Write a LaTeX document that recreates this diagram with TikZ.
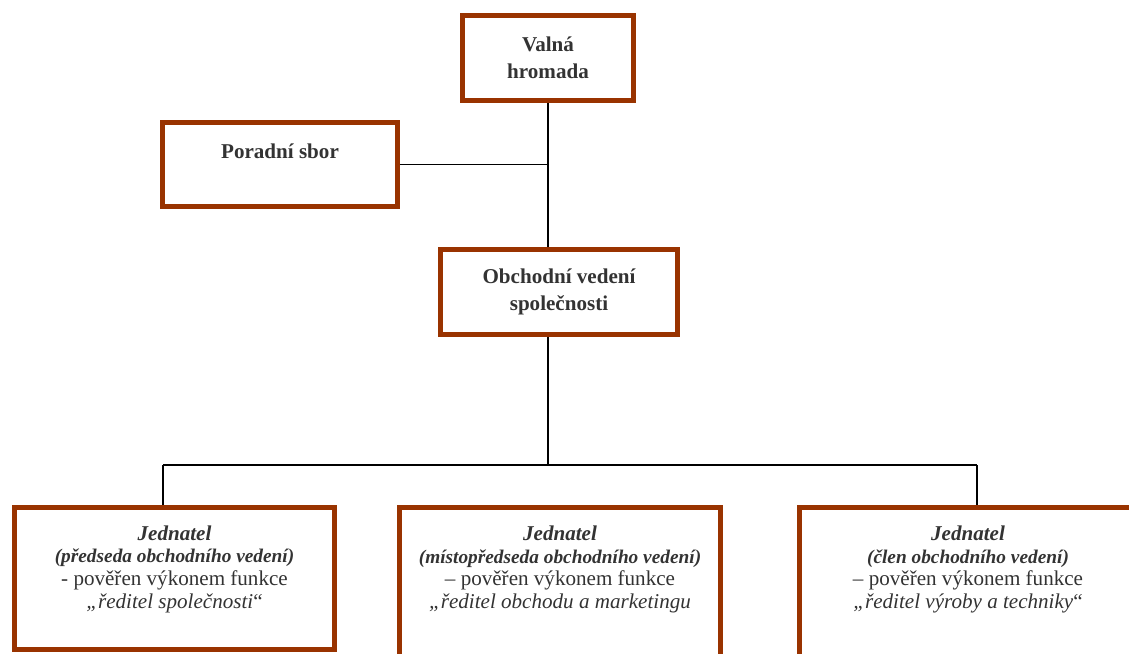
\documentclass[tikz,border=0pt]{standalone}
\usepackage{fontspec}
\setmainfont{Liberation Serif}
\definecolor{rambrown}{HTML}{993300}
\definecolor{textgray}{HTML}{333333}

\begin{document}
\begin{tikzpicture}[x=0.02cm, y=-0.02cm,
    box/.style={draw=rambrown, line width=2.8pt, fill=white, align=center, text=textgray, inner sep=0pt},
    topbox/.style={box, font=\fontsize{12}{15.3}\selectfont\bfseries},
    jedbox/.style={box, font=\fontsize{12}{13}\selectfont},
    link/.style={line width=0.8pt, black}]
    \useasboundingbox (0,0) rectangle (1129,653);
    \clip (0,0) rectangle (1129,653);

    % upper part
    \node[topbox, minimum width=3.42cm, minimum height=1.7cm] (valna) at (548,58) {Valná\\hromada};
    \node[topbox, minimum width=4.7cm, minimum height=1.68cm] (poradni) at (280,164.5) {Poradní sbor\\~};
    \node[topbox, minimum width=4.74cm, minimum height=1.7cm] (obchod) at (559,292) {Obchodní vedení\\společnosti};

    % jednatele
    \node[jedbox, minimum width=6.4cm, minimum height=2.84cm] (jed1) at (174.5,578.5) {%
        {\bfseries\itshape Jednatel}\\
        {\fontsize{11}{13}\selectfont\bfseries\itshape (předseda obchodního vedení)}\\
        - pověřen výkonem funkce\\
        {\itshape „ředitel společnosti}“\\
        ~};
    \node[jedbox, minimum width=6.42cm, minimum height=3.3cm] (jed2) at (560,590) {%
        {\bfseries\itshape Jednatel}\\
        {\fontsize{11}{13}\selectfont\bfseries\itshape (místopředseda obchodního vedení)}\\
        – pověřen výkonem funkce\\
        {\itshape „ředitel obchodu a marketingu}\\
        ~\\
        ~};
    \node[jedbox, minimum width=6.74cm, minimum height=3.3cm] (jed3) at (968,590) {%
        {\bfseries\itshape Jednatel}\\
        {\fontsize{11}{13}\selectfont\bfseries\itshape (člen obchodního vedení)}\\
        – pověřen výkonem funkce\\
        {\itshape „ředitel výroby a techniky}“\\
        ~\\
        ~};

    % connectors
    \coordinate (busL) at (163,465);
    \coordinate (busR) at (977,465);
    \draw[link] (valna.south) -- (valna.south |- obchod.north);
    \draw[link] (poradni.east) -- (poradni.east -| valna.south);
    \draw[link] (obchod.south -| valna.south) -- (valna.south |- busL);
    \draw[link] (busL) -- (busR);
    \draw[link] (busL) -- (busL |- jed1.north);
    \draw[link] (busR) -- (busR |- jed3.north);
\end{tikzpicture}
\end{document}
